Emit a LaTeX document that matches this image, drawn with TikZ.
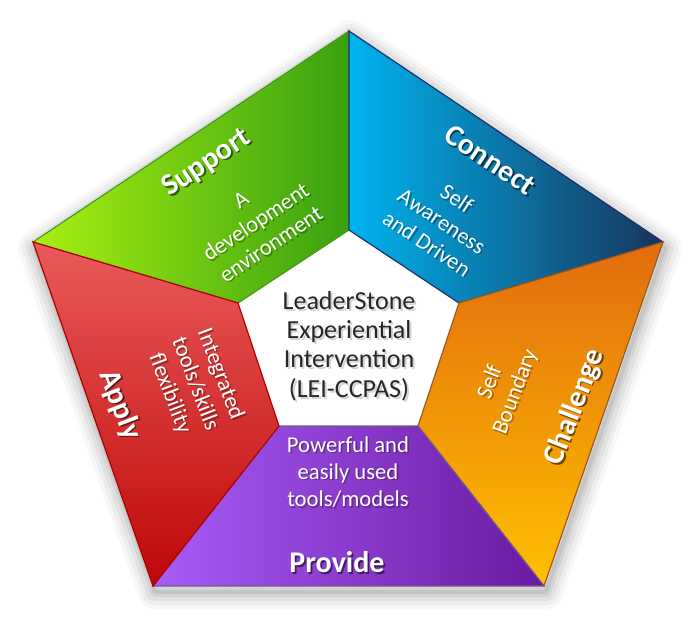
\documentclass[tikz,border=0pt]{standalone}
\usepackage{fontspec}
\setmainfont{Carlito}
\usetikzlibrary{calc}
\definecolor{gL}{HTML}{A8F012}
\definecolor{gR}{HTML}{38A010}
\definecolor{gB}{HTML}{4A9A1E}
\definecolor{bL}{HTML}{00B4F0}
\definecolor{bR}{HTML}{17345A}
\definecolor{bB}{HTML}{1F2F6E}
\definecolor{oT}{HTML}{E26C0E}
\definecolor{oB}{HTML}{FFC000}
\definecolor{oE}{HTML}{A0581A}
\definecolor{pL}{HTML}{A85CF8}
\definecolor{pR}{HTML}{6A1AA0}
\definecolor{pE}{HTML}{6E5A8C}
\definecolor{rT}{HTML}{EA5A5A}
\definecolor{rB}{HTML}{BE0808}
\definecolor{rE}{HTML}{B00000}
\definecolor{darktext}{HTML}{262626}
\tikzset{
  seg/.style={line width=0.9pt, line join=miter},
  lbl/.style={font=\bfseries\fontsize{22.5}{26}\selectfont, align=center, inner sep=0pt},
  sub/.style={font=\fontsize{17}{20.3}\selectfont, align=center, inner sep=0pt},
  ctr/.style={font=\fontsize{19.5}{22}\selectfont, align=center, inner sep=0pt},
}
\newcommand{\shadedtext}[6]{%
  \node[#4, rotate=#3, text=black, opacity=#5] (#1s) at ($(#2)+(1.6,1.6)$) {#6};
  \node[#4, rotate=#3, text=white] (#1) at (#2) {#6};
}
\begin{document}
\begin{tikzpicture}[x=0.75pt, y=-0.75pt]
\useasboundingbox (0,0) rectangle (697,618);
% outer and inner corners
\coordinate (O1) at (349,31);
\coordinate (O2) at (663,242);
\coordinate (O3) at (544,586);
\coordinate (O4) at (153,586);
\coordinate (O5) at (33,242);
\coordinate (I1) at (349,230);
\coordinate (I2) at (459,303);
\coordinate (I3) at (418,426);
\coordinate (I4) at (279,426);
\coordinate (I5) at (238,303);
% soft drop shadow
\foreach \w/\o in {34/0.03, 26/0.04, 18/0.05, 10/0.06, 4/0.07}{
  \draw[black, opacity=\o, line width={0.75*\w pt}, line join=round]
    (351,37) -- (665,248) -- (546,592) -- (155,592) -- (35,248) -- cycle;
}
% segments
\shade[left color=gL, right color=gR] (O5) -- (O1) -- (I1) -- (I5) -- cycle;
\draw[seg, gB] (O5) -- (O1) -- (I1) -- (I5) -- cycle;
\shade[left color=bL, right color=bR] (O1) -- (O2) -- (I2) -- (I1) -- cycle;
\draw[seg, bB] (O1) -- (O2) -- (I2) -- (I1) -- cycle;
\shade[top color=oT, bottom color=oB] (O2) -- (O3) -- (I3) -- (I2) -- cycle;
\draw[seg, oE] (O2) -- (O3) -- (I3) -- (I2) -- cycle;
\shade[left color=pL, right color=pR] (O3) -- (O4) -- (I4) -- (I3) -- cycle;
\draw[seg, pE] (O3) -- (O4) -- (I4) -- (I3) -- cycle;
\shade[top color=rT, bottom color=rB] (O4) -- (O5) -- (I5) -- (I4) -- cycle;
\draw[seg, rE] (O4) -- (O5) -- (I5) -- (I4) -- cycle;
% labels
\shadedtext{support}{207,163}{33.7}{lbl}{0.55}{Support}
\shadedtext{supportsub}{256,222}{33.7}{sub}{0.3}{A\\development\\environment}
\shadedtext{connect}{490,160}{-33.7}{lbl}{0.55}{Connect}
\shadedtext{connectsub}{442,221}{-33.7}{sub}{0.3}{Self\\Awareness\\and Driven}
\shadedtext{challenge}{575,407}{69}{lbl}{0.55}{Challenge}
\shadedtext{challengesub}{503,387}{69}{sub}{0.3}{Self\\Boundary}
\shadedtext{provide}{337,562}{0}{lbl}{0.55}{Provide}
\shadedtext{providesub}{348,472}{0}{sub}{0.3}{Powerful and\\easily used\\tools/models}
\shadedtext{apply}{120,405}{-69}{lbl}{0.55}{Apply}
\shadedtext{applysub}{195,384}{-69}{sub}{0.3}{Integrated\\tools/skills\\flexibility}
% centre
\node[ctr, text=black, opacity=0.18] (centres) at (351,348) {LeaderStone\\Experiential\\Intervention\\(LEI-CCPAS)};
\node[ctr, text=darktext] (centre) at (349,346) {LeaderStone\\Experiential\\Intervention\\(LEI-CCPAS)};
\end{tikzpicture}
\end{document}
